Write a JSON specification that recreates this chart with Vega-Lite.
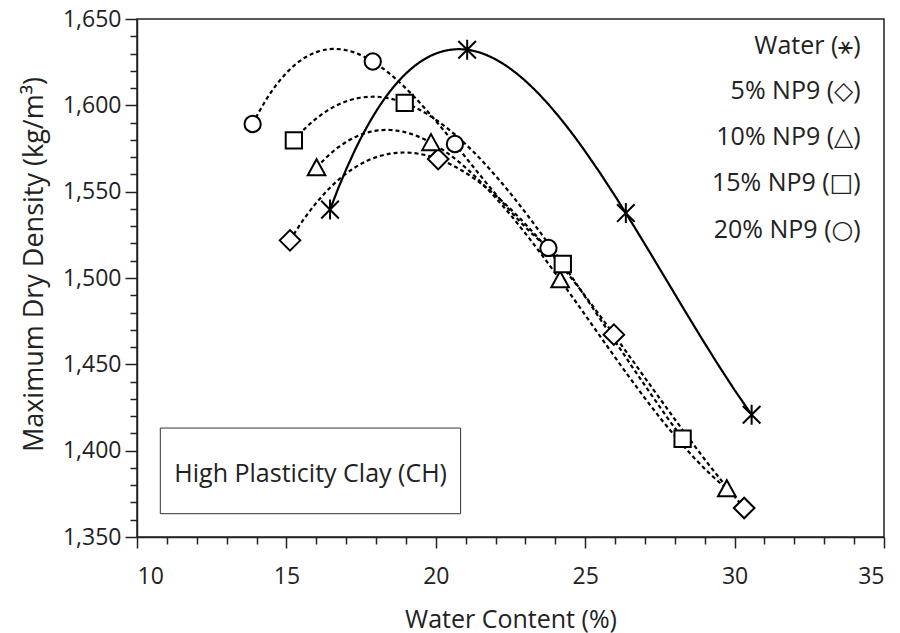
{
  "$schema": "https://vega.github.io/schema/vega-lite/v6.json",
  "width": 747,
  "height": 518,
  "autosize": "none",
  "padding": {"left": 137, "top": 19, "right": 16, "bottom": 96},
  "background": "white",
  "config": {
    "font": "Open Sans",
    "view": {"stroke": "#222", "strokeWidth": 1.5},
    "axis": {
      "grid": false,
      "domainColor": "#222",
      "domainWidth": 1.5,
      "tickColor": "#222",
      "tickWidth": 1.5,
      "labelFont": "Open Sans",
      "labelFontSize": 23,
      "labelColor": "#222",
      "titleFont": "Open Sans",
      "titleFontSize": 25,
      "titleFontWeight": "normal",
      "titleColor": "#222"
    }
  },
  "datasets": {
    "pts": [
      {"series": "Water", "wc": 16.46, "mdd": 1539.6},
      {"series": "Water", "wc": 21.05, "mdd": 1632.2},
      {"series": "Water", "wc": 26.36, "mdd": 1537.6},
      {"series": "Water", "wc": 30.57, "mdd": 1420.8},
      {"series": "5% NP9", "wc": 15.12, "mdd": 1521.8},
      {"series": "5% NP9", "wc": 20.08, "mdd": 1568.9},
      {"series": "5% NP9", "wc": 25.96, "mdd": 1467.2},
      {"series": "5% NP9", "wc": 30.32, "mdd": 1366.8},
      {"series": "10% NP9", "wc": 16.01, "mdd": 1563.9},
      {"series": "10% NP9", "wc": 19.84, "mdd": 1578.4},
      {"series": "10% NP9", "wc": 24.16, "mdd": 1499.0},
      {"series": "10% NP9", "wc": 29.74, "mdd": 1378.0},
      {"series": "15% NP9", "wc": 15.25, "mdd": 1579.7},
      {"series": "15% NP9", "wc": 18.96, "mdd": 1601.4},
      {"series": "15% NP9", "wc": 24.25, "mdd": 1508.1},
      {"series": "15% NP9", "wc": 28.26, "mdd": 1406.9},
      {"series": "20% NP9", "wc": 13.87, "mdd": 1589.2},
      {"series": "20% NP9", "wc": 17.89, "mdd": 1625.4},
      {"series": "20% NP9", "wc": 20.64, "mdd": 1577.6},
      {"series": "20% NP9", "wc": 23.77, "mdd": 1517.4}
    ],
    "legendRows": [
      {"label": "Water (⚹)", "wc": 34.22, "mdd": 1634.1},
      {"label": "5% NP9 (◇)", "wc": 34.22, "mdd": 1608.1},
      {"label": "10% NP9 (△)", "wc": 34.22, "mdd": 1581.7},
      {"label": "15% NP9 (□)", "wc": 34.22, "mdd": 1555.0},
      {"label": "20% NP9 (○)", "wc": 34.22, "mdd": 1527.9}
    ],
    "box": [
      {"label": "High Plasticity Clay (CH)", "wc": 10.78, "wc2": 20.83, "mdd": 1363.5, "mdd2": 1413.1, "lx": 11.25, "ly": 1386.7}
    ]
  },
  "encoding": {
    "x": {
      "field": "wc",
      "type": "quantitative",
      "scale": {"domain": [10, 35], "nice": false, "zero": false},
      "axis": {
        "title": "Water Content (%)",
        "values": [10,11,12,13,14,15,16,17,18,19,20,21,22,23,24,25,26,27,28,29,30,31,32,33,34,35],
        "labelExpr": "datum.value % 5 === 0 ? format(datum.value, 'd') : ''",
        "tickSize": {"condition": {"test": "datum.value % 5 === 0", "value": 11}, "value": 7},
        "labelPadding": 17,
        "titlePadding": 19
      }
    },
    "y": {
      "field": "mdd",
      "type": "quantitative",
      "scale": {"domain": [1350, 1650], "nice": false, "zero": false},
      "axis": {
        "title": "Maximum Dry Density (kg/m³)",
        "titleFontSize": 27,
        "values": [1350,1360,1370,1380,1390,1400,1410,1420,1430,1440,1450,1460,1470,1480,1490,1500,1510,1520,1530,1540,1550,1560,1570,1580,1590,1600,1610,1620,1630,1640,1650],
        "labelExpr": "datum.value % 50 === 0 ? format(datum.value, ',') : ''",
        "tickSize": {"condition": {"test": "datum.value % 50 === 0", "value": 12}, "value": 7},
        "labelPadding": 4,
        "titlePadding": 14,
        "titleY": 245
      }
    }
  },
  "layer": [
    {
      "data": {"name": "box"},
      "mark": {"type": "rect", "fill": "white", "stroke": "#333", "strokeWidth": 1},
      "encoding": {
        "x2": {"field": "wc2"},
        "y2": {"field": "mdd2"}
      }
    },
    {
      "data": {"name": "box"},
      "mark": {"type": "text", "align": "left", "baseline": "middle", "fontSize": 25, "color": "#222", "font": "Open Sans"},
      "encoding": {
        "x": {"field": "lx", "type": "quantitative"},
        "y": {"field": "ly", "type": "quantitative"},
        "text": {"field": "label"}
      }
    },
    {
      "data": {"name": "pts"},
      "transform": [
        {"regression": "mdd", "on": "wc", "groupby": ["series"], "method": "poly", "order": 3}
      ],
      "mark": {"type": "line", "color": "black", "strokeWidth": 2.2},
      "encoding": {
        "detail": {"field": "series"},
        "strokeDash": {
          "field": "series",
          "type": "nominal",
          "scale": {
            "domain": ["Water", "5% NP9", "10% NP9", "15% NP9", "20% NP9"],
            "range": [[1, 0], [4, 3], [4, 3], [4, 3], [4, 3]]
          },
          "legend": null
        }
      }
    },
    {
      "data": {"name": "pts"},
      "mark": {"type": "point", "filled": false, "fill": "white", "fillOpacity": 1, "stroke": "black", "strokeWidth": 2, "opacity": 1, "size": 400},
      "encoding": {
        "shape": {
          "field": "series",
          "type": "nominal",
          "scale": {
            "domain": ["Water", "5% NP9", "10% NP9", "15% NP9", "20% NP9"],
            "range": [
              "M0,-1L0,1M-0.88,-0.88L0.88,0.88M-0.88,0.88L0.88,-0.88",
              "M-1.03,0L0,-1.03L1.03,0L0,1.03Z",
              "M0,-0.85L0.88,0.75L-0.88,0.75Z",
              "M-0.815,-0.815L0.815,-0.815L0.815,0.815L-0.815,0.815Z",
              "M0.815,0A0.815,0.815,0,1,1,-0.815,0A0.815,0.815,0,1,1,0.815,0Z"
            ]
          },
          "legend": null
        }
      }
    },
    {
      "data": {"name": "legendRows"},
      "mark": {"type": "text", "align": "right", "baseline": "middle", "fontSize": 25, "color": "#222", "font": "Open Sans, DejaVu Sans"},
      "encoding": {
        "text": {"field": "label"}
      }
    }
  ]
}
